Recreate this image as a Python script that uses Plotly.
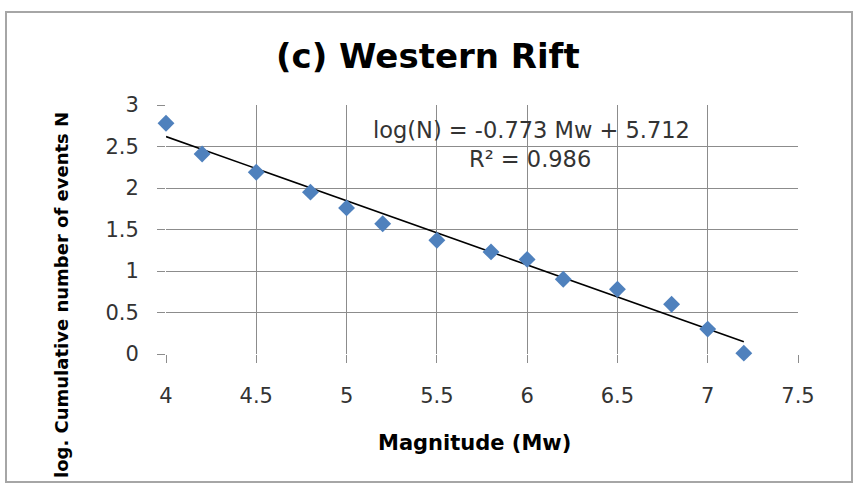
import plotly.graph_objects as go

# Magnitude (Mw) and log10 of cumulative number of events
magnitude = [4.0, 4.2, 4.5, 4.8, 5.0, 5.2, 5.5, 5.8, 6.0, 6.2, 6.5, 6.8, 7.0, 7.2]
log_n = [2.78, 2.41, 2.19, 1.95, 1.76, 1.57, 1.37, 1.23, 1.14, 0.90, 0.78, 0.60, 0.30, 0.01]

# Linear trendline coefficients
slope = -0.773
intercept = 5.712
r_squared = 0.986

x_ticks = [4, 4.5, 5, 5.5, 6, 6.5, 7, 7.5]
y_ticks = [0, 0.5, 1, 1.5, 2, 2.5, 3]

FONT = "DejaVu Sans"
W, H = 854, 484
ML, MR, MT, MB = 166, 56, 105, 130
PW, PH = W - ML - MR, H - MT - MB


def px_x(p):
    return (p - ML) / PW


def px_y(p):
    return (H - MB - p) / PH


trend_x = [magnitude[0], magnitude[-1]]
trend_y = [slope * v + intercept for v in trend_x]

fig = go.Figure()
fig.add_trace(go.Scatter(
    x=trend_x, y=trend_y, mode="lines",
    line=dict(color="black", width=1.6),
    hoverinfo="skip", showlegend=False,
))
fig.add_trace(go.Scatter(
    x=magnitude, y=log_n, mode="markers",
    marker=dict(symbol="diamond", size=13, color="#4F81BD"),
    cliponaxis=False, showlegend=False,
))

axis_common = dict(
    showgrid=True, gridcolor="#8c8c8c", gridwidth=1,
    zeroline=False, showline=False,
    ticks="outside", ticklen=8, tickcolor="#8c8c8c", tickwidth=1,
    tickfont=dict(family=FONT, size=21, color="#333333"),
)

fig.update_xaxes(range=[4, 7.5], tickvals=x_ticks,
                 ticktext=[f"{v:g}" for v in x_ticks],
                 ticklabelstandoff=15, **axis_common)
fig.update_yaxes(range=[0, 3], tickvals=y_ticks,
                 ticktext=[f"{v:g}" for v in y_ticks],
                 ticklabelstandoff=14, **axis_common)

eq_text = f"log(N) = {slope} Mw + {intercept}"
r2_text = f"R² = {r_squared}"


def label(text, x, y, size, color="black", angle=0):
    return dict(text=text, xref="paper", yref="paper",
                x=px_x(x), y=px_y(y), xanchor="center", yanchor="middle",
                showarrow=False, textangle=angle,
                font=dict(family=FONT, size=size, color=color))


fig.update_layout(
    width=W, height=H,
    margin=dict(l=ML, r=MR, t=MT, b=MB),
    paper_bgcolor="white", plot_bgcolor="white",
    font=dict(family=FONT, color="#333333"),
    shapes=[dict(
        type="rect", xref="paper", yref="paper",
        x0=px_x(6), x1=px_x(852), y0=px_y(482), y1=px_y(12),
        line=dict(color="#a6a6a6", width=2), layer="below",
    )],
    annotations=[
        label("<b>(c) Western Rift</b>", 428, 56, 34),
        label("<b>Magnitude (Mw)</b>", 474, 443, 21),
        label("<b>log. Cumulative number of events N</b>", 61, 295, 18, angle=-90),
        label(eq_text, 531, 130, 22.5, color="#333333"),
        label(r2_text, 530, 159, 22.5, color="#333333"),
    ],
)

fig.write_html("out.html")
